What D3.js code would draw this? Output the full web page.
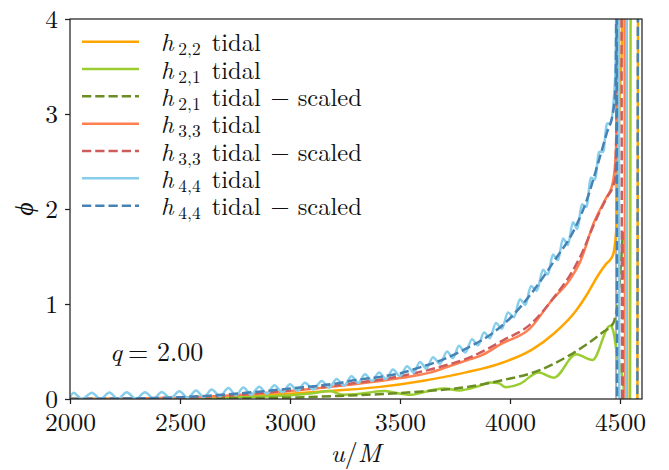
<!DOCTYPE html>
<html>
<head>
<meta charset="utf-8">
<script src="https://cdn.jsdelivr.net/npm/d3@7"></script>
<style>
  body { margin: 0; background: #fff; }
  svg { display: block; }
</style>
</head>
<body>
<svg id="chart" width="669" height="470"></svg>
<script>
// ---- data: accumulated tidal phase phi against retarded time u/M ----
const xTicks = [2000, 2500, 3000, 3500, 4000, 4500];
const yTicks = [0, 1, 2, 3, 4];
const xDomain = [2000, 4600];
const yDomain = [0, 4];
const mergerU = 4482;
const massRatio = "2.00";

const h22Tidal = [[2000,0.0],[2400,0.005],[2700,0.02],[3000,0.055],[3200,0.088],[3400,0.125],[3600,0.19],[3800,0.28],[3950,0.37],[4100,0.52],[4200,0.69],[4300,0.93],[4350,1.1],[4400,1.3],[4440,1.43],[4460,1.48],[4472,1.55],[4480,1.7],[4486,1.9],[4492,2.55],[4500,3.25],[4508,3.7],[4512,4.5],[4530,4.5],[4534,-0.5],[4578,-0.5],[4583,4.5],[4600,4.5]];

const h21Tidal = [[2000,0.0],[2500,0.005],[2800,0.02],[3000,0.04],[3100,0.06],[3180,0.085],[3240,0.045],[3300,0.05],[3380,0.075],[3430,0.085],[3480,0.065],[3550,0.045],[3640,0.09],[3700,0.11],[3770,0.09],[3850,0.13],[3910,0.175],[3950,0.165],[3980,0.125],[4045,0.16],[4130,0.28],[4200,0.225],[4300,0.47],[4375,0.41],[4455,0.77],[4470,0.71],[4488,0.45],[4505,0.3],[4518,0.07],[4523,-0.5],[4545,-0.5],[4549,4.5],[4600,4.5]];

const h21Scaled = [[2000,0.0],[2600,0.005],[3000,0.015],[3200,0.03],[3400,0.05],[3600,0.08],[3800,0.125],[3970,0.2],[4120,0.29],[4270,0.46],[4420,0.7],[4470,0.8],[4480,0.88],[4492,1.04],[4505,1.45],[4515,1.75],[4518,-0.5],[4600,-0.5]];

const h33Tidal = [[2000,0.0],[2400,0.01],[2700,0.035],[3000,0.085],[3270,0.15],[3500,0.22],[3640,0.28],[3730,0.35],[3820,0.42],[3870,0.46],[3960,0.58],[4090,0.74],[4190,1.04],[4270,1.25],[4320,1.45],[4380,1.85],[4440,2.13],[4462,2.23],[4477,2.45],[4485,2.9],[4490,4.5],[4520,4.5],[4524,-0.5],[4600,-0.5]];

const h33Scaled = [[2000,0.0],[2500,0.015],[2800,0.05],[3000,0.09],[3270,0.16],[3500,0.24],[3700,0.35],[3820,0.44],[3970,0.62],[4090,0.78],[4200,1.07],[4280,1.33],[4330,1.55],[4380,1.83],[4440,2.12],[4470,2.25],[4478,2.32],[4484,3.0],[4488,4.5],[4506,4.5],[4510,-0.5],[4600,-0.5]];

const h44Tidal = [[2000,0.01],[2015,0.065],[2055,0.0],[2099,0.067],[2139,0.0],[2179,0.068],[2218,0.0],[2258,0.07],[2300,0.002],[2341,0.072],[2380,0.004],[2417,0.074],[2457,0.008],[2497,0.082],[2535,0.012],[2573,0.09],[2608,0.018],[2644,0.1],[2682,0.03],[2720,0.115],[2754,0.04],[2788,0.12],[2824,0.045],[2860,0.13],[2895,0.055],[2929,0.145],[2965,0.07],[3000,0.155],[3034,0.085],[3068,0.17],[3106,0.1],[3144,0.19],[3178,0.12],[3212,0.21],[3246,0.14],[3280,0.24],[3310,0.17],[3341,0.26],[3373,0.19],[3405,0.28],[3436,0.21],[3468,0.31],[3500,0.24],[3532,0.345],[3562,0.28],[3591,0.39],[3620,0.32],[3650,0.44],[3682,0.37],[3714,0.5],[3741,0.43],[3768,0.56],[3797,0.49],[3827,0.63],[3855,0.565],[3882,0.7],[3909,0.64],[3936,0.8],[3963,0.74],[3991,0.91],[4018,0.86],[4045,1.05],[4070,0.99],[4095,1.19],[4122,1.14],[4150,1.36],[4172,1.31],[4195,1.52],[4218,1.46],[4241,1.69],[4263,1.62],[4286,1.86],[4306,1.79],[4327,2.05],[4347,2.02],[4368,2.33],[4386,2.31],[4405,2.6],[4423,2.6],[4441,2.9],[4457,2.9],[4473,3.2],[4480,3.5],[4486,4.5],[4494,4.5],[4497,-0.5],[4527,-0.5],[4531,4.5],[4600,4.5]];

const h44Scaled = [[2000,0.0],[2400,0.01],[2600,0.03],[2800,0.065],[3000,0.11],[3200,0.16],[3300,0.2],[3400,0.23],[3500,0.27],[3600,0.34],[3700,0.42],[3800,0.53],[3900,0.66],[4000,0.85],[4100,1.12],[4200,1.45],[4300,1.82],[4350,2.1],[4400,2.48],[4440,2.8],[4470,3.04],[4480,3.3],[4485,4.5],[4487,-0.5],[4578,-0.5],[4582,4.5],[4600,4.5]];

// ---- series styling (drawing order = legend order) ----
const series = [
  { mode: "2,2", scaled: false, data: h22Tidal,  color: "#FFA500", dash: null },
  { mode: "2,1", scaled: false, data: h21Tidal,  color: "#9ACD32", dash: null },
  { mode: "2,1", scaled: true,  data: h21Scaled, color: "#6B8E23", dash: "9.25,4" },
  { mode: "3,3", scaled: false, data: h33Tidal,  color: "#FF7F50", dash: null },
  { mode: "3,3", scaled: true,  data: h33Scaled, color: "#CD5C5C", dash: "9.25,4" },
  { mode: "4,4", scaled: false, data: h44Tidal,  color: "#87CEEB", dash: null },
  { mode: "4,4", scaled: true,  data: h44Scaled, color: "#4682B4", dash: "9.25,4" }
];

// ---- layout ----
const W = 669, H = 470;
const margin = { left: 70, right: 27, top: 19, bottom: 71 };
const plotW = W - margin.left - margin.right;
const plotH = H - margin.top - margin.bottom;
const FONT = '"Latin Modern Roman", "Liberation Serif", "DejaVu Serif", serif';

const svg = d3.select("#chart");
const g = svg.append("g").attr("transform", `translate(${margin.left},${margin.top})`);

const x = d3.scaleLinear().domain(xDomain).range([0, plotW]);
const y = d3.scaleLinear().domain(yDomain).range([plotH, 0]);

svg.append("defs").append("clipPath").attr("id", "plot-clip")
  .append("rect").attr("x", 0).attr("y", 0).attr("width", plotW).attr("height", plotH);

// merger marker
g.append("line")
  .attr("x1", x(mergerU)).attr("x2", x(mergerU))
  .attr("y1", 0).attr("y2", plotH)
  .attr("stroke", "#9a9a9a").attr("stroke-width", 1.5);

const line = d3.line()
  .x(d => x(d[0]))
  .y(d => y(d[1]))
  .curve(d3.curveMonotoneX);

const lines = g.append("g").attr("clip-path", "url(#plot-clip)");
series.forEach(s => {
  lines.append("path")
    .datum(s.data)
    .attr("d", line)
    .attr("fill", "none")
    .attr("stroke", s.color)
    .attr("stroke-width", 2.5)
    .attr("stroke-linejoin", "round")
    .attr("stroke-dasharray", s.dash);
});

// ---- axes ----
const xAxis = g.append("g").attr("transform", `translate(0,${plotH})`)
  .call(d3.axisBottom(x).tickValues(xTicks).tickSize(5).tickPadding(9).tickFormat(d3.format("d")));
const yAxis = g.append("g")
  .call(d3.axisLeft(y).tickValues(yTicks).tickSize(5).tickPadding(7).tickFormat(d3.format("d")));
[xAxis, yAxis].forEach(a => {
  a.select(".domain").remove();
  a.selectAll(".tick line").attr("stroke", "#222").attr("stroke-width", 1.25);
  a.selectAll(".tick text")
    .style("font-family", FONT).style("font-size", "25.5px").attr("fill", "#111");
});

// frame
g.append("rect")
  .attr("x", 0).attr("y", 0).attr("width", plotW).attr("height", plotH)
  .attr("fill", "none").attr("stroke", "#222").attr("stroke-width", 1.25);

function textEl(parent, px, py, size, anchor) {
  return parent.append("text")
    .attr("x", px).attr("y", py)
    .attr("text-anchor", anchor || "start")
    .style("font-family", FONT).style("font-size", size + "px")
    .attr("fill", "#111");
}

// axis labels
const xl = textEl(svg, margin.left + plotW / 2, 462, 26, "middle");
xl.append("tspan").style("font-style", "italic").text("u");
xl.append("tspan").text("/");
xl.append("tspan").style("font-style", "italic").text("M");

svg.append("text")
  .attr("transform", `translate(25,${margin.top + plotH / 2}) rotate(-90)`)
  .attr("text-anchor", "middle").attr("dy", "0.3em")
  .style("font-family", FONT).style("font-size", "26px").style("font-style", "italic")
  .attr("fill", "#111")
  .text("\u03D5");

// mass ratio annotation
const qt = textEl(svg, 110, 361, 26);
qt.append("tspan").style("font-style", "italic").text("q");
qt.append("tspan").attr("x", 128).text("=");
qt.append("tspan").attr("x", 157).text(massRatio);

// ---- legend ----
const legendTop = 41.7, legendStep = 27.33;
const leg = svg.append("g");
series.forEach((s, i) => {
  const cy = legendTop + i * legendStep;
  leg.append("line")
    .attr("x1", 82).attr("x2", 139).attr("y1", cy).attr("y2", cy)
    .attr("stroke", s.color).attr("stroke-width", 2.5)
    .attr("stroke-dasharray", s.dash);
  const t = textEl(leg, 161, cy + 9.5, 24.5);
  t.append("tspan").style("font-style", "italic").text("h");
  t.append("tspan").attr("x", 178.3).attr("dy", 4).style("font-size", "17.5px").text(s.mode);
  t.append("tspan").attr("x", 211.7).attr("dy", -4).text("tidal");
  if (s.scaled) {
    t.append("tspan").attr("x", 270.5).text("\u2212");
    t.append("tspan").attr("x", 297.7).text("scaled");
  }
});
</script>
</body>
</html>
